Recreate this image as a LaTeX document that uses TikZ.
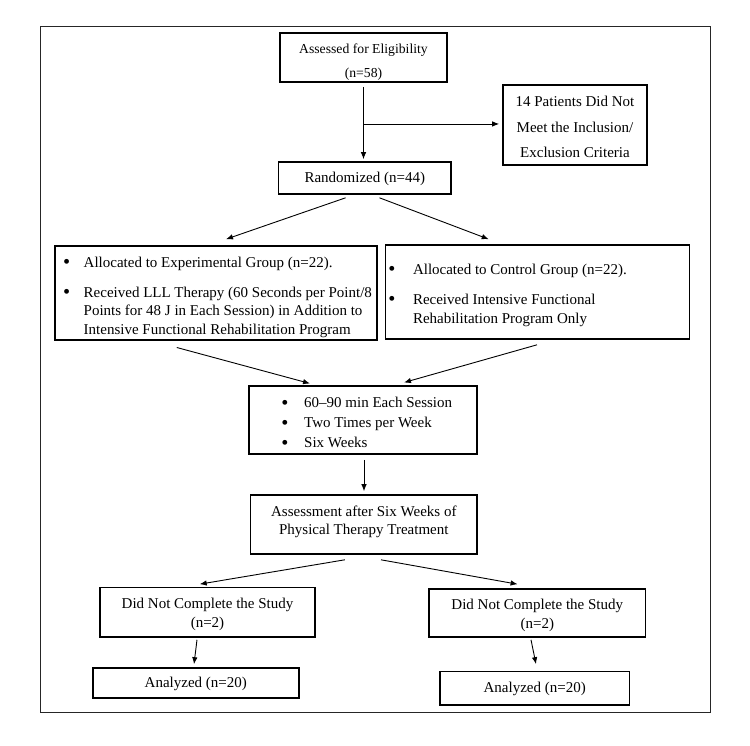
\documentclass[tikz,border=0pt]{standalone}
\usepackage{fontspec}
\usepackage{graphicx}
\setmainfont{Liberation Serif}
\usetikzlibrary{arrows.meta,calc}
\newcommand\lowerby[2]{\raisebox{-#1}[\height][\depth]{#2}}
\newcommand\ctext[2]{\lowerby{#1}{\begin{tabular}{@{}c@{}}#2\end{tabular}}}
\newcommand\bul{\makebox[5.25pt][c]{\raisebox{-1.6pt}{\scalebox{1.35}{\textbullet}}}}
\begin{document}
\begin{tikzpicture}[x=1pt,y=-1pt,
  box/.style={draw=black,line width=1.6pt,inner sep=0pt,align=center,
    font=\fontsize{15}{19}\selectfont},
  lbox/.style={draw=black,line width=1.6pt,inner sep=0pt},
  arr/.style={line width=0.9pt,-{Latex[length=7pt,width=5.5pt]}}]
\useasboundingbox (0,0) rectangle (750,745);
\draw[line width=1pt,draw=black!85] (40,26) rectangle (710,712);

\node[box,minimum width=167pt,minimum height=49pt,font=\fontsize{13.7}{24}\selectfont] (assess) at (363.5,57.5)
  {\ctext{3pt}{Assessed for Eligibility\\(n=58)}};
\node[box,minimum width=144pt,minimum height=80pt,font=\fontsize{15}{25.5}\selectfont] (excl) at (575,125)
  {\ctext{2pt}{14 Patients Did Not\\Meet the Inclusion/\\Exclusion Criteria}};
\node[box,minimum width=172.4pt,minimum height=32pt] (rand) at (364.8,178) {\ctext{1pt}{Randomized (n=44)}};

\node[lbox,minimum width=322pt,minimum height=94pt,font=\fontsize{15}{18.5}\selectfont] (exp) at (216,293)
  {\makebox[322pt][l]{\hspace*{9pt}\lowerby{4pt}{\begin{tabular}{@{}l@{\hspace{14.45pt}}l@{}}
   \bul & Allocated to Experimental Group (n=22).\\[11.5pt]
   \bul & Received LLL Therapy (60 Seconds per Point/8\\
   & Points for 48 J in Each Session) in Addition to\\
   & Intensive Functional Rehabilitation Program
   \end{tabular}}}};
\node[lbox,minimum width=304pt,minimum height=94pt,font=\fontsize{15}{19}\selectfont] (ctl) at (537.5,292)
  {\makebox[304pt][l]{\hspace*{3.9pt}\lowerby{3pt}{\begin{tabular}{@{}l@{\hspace{18.35pt}}l@{}}
   \bul & Allocated to Control Group (n=22).\\[11pt]
   \bul & Received Intensive Functional\\
   & Rehabilitation Program Only
   \end{tabular}}}};

\node[lbox,minimum width=228pt,minimum height=68pt,font=\fontsize{15}{20}\selectfont] (mid) at (363,420)
  {\makebox[228pt][l]{\hspace*{33.2pt}\lowerby{3.5pt}{\begin{tabular}{@{}l@{\hspace{16.75pt}}l@{}}
   \bul & 60–90 min Each Session\\
   \bul & Two Times per Week\\
   \bul & Six Weeks
   \end{tabular}}}};

\node[box,minimum width=226.4pt,minimum height=59pt,font=\fontsize{15}{18}\selectfont] (post) at (363.8,524.5)
  {\ctext{-3pt}{Assessment after Six Weeks of\\Physical Therapy Treatment}};

\node[box,minimum width=215pt,minimum height=49.3pt] (dncL) at (207.5,612.3)
  {\ctext{2pt}{Did Not Complete the Study\\(n=2)}};
\node[box,minimum width=216.6pt,minimum height=48pt] (dncR) at (537.3,613)
  {\ctext{2pt}{Did Not Complete the Study\\(n=2)}};

\node[box,minimum width=206pt,minimum height=30pt] (anL) at (195.8,683) {\ctext{1pt}{Analyzed (n=20)}};
\node[box,minimum width=189.5pt,minimum height=33.3pt] (anR) at (534.7,688.3) {\ctext{0.7pt}{Analyzed (n=20)}};

% connectors
\coordinate (br) at ($(assess.south)!0.525!(assess.south |- rand.north)$);
\draw[arr] ([yshift=-4pt]assess.south) -- ([yshift=2pt]assess.south |- rand.north);
\draw[arr,shorten >=3pt] (br) -- (br -| excl.west);
\draw[arr] ([xshift=-19.2pt,yshift=-3pt]rand.south) -- ([xshift=10pt,yshift=6pt]exp.north);
\draw[arr] ([xshift=14.7pt,yshift=-3pt]rand.south) -- ([xshift=-48.8pt,yshift=5pt]ctl.north);
\draw[arr] ([xshift=-39.2pt,yshift=-6.7pt]exp.south) -- ([xshift=-53pt,yshift=1.7pt]mid.north);
\draw[arr] ([xshift=-0.5pt,yshift=-5pt]ctl.south) -- ([xshift=41pt,yshift=2.7pt]mid.north);
\draw[arr] ([xshift=1pt,yshift=-5pt]mid.south) -- ([xshift=0.2pt,yshift=3pt]post.north);
\draw[arr] ([xshift=-19pt,yshift=-5pt]post.south) -- ([xshift=-7.8pt,yshift=2.7pt]dncL.north);
\draw[arr] ([xshift=17.2pt,yshift=-5pt]post.south) -- ([xshift=-19.7pt,yshift=4pt]dncR.north);
\draw[arr] ([xshift=-10.5pt,yshift=-2pt]dncL.south) -- ([xshift=-1.8pt,yshift=3pt]anL.north);
\draw[arr] ([xshift=-6.3pt,yshift=-2pt]dncR.south) -- ([xshift=1.3pt,yshift=6.7pt]anR.north);
\end{tikzpicture}
\end{document}
